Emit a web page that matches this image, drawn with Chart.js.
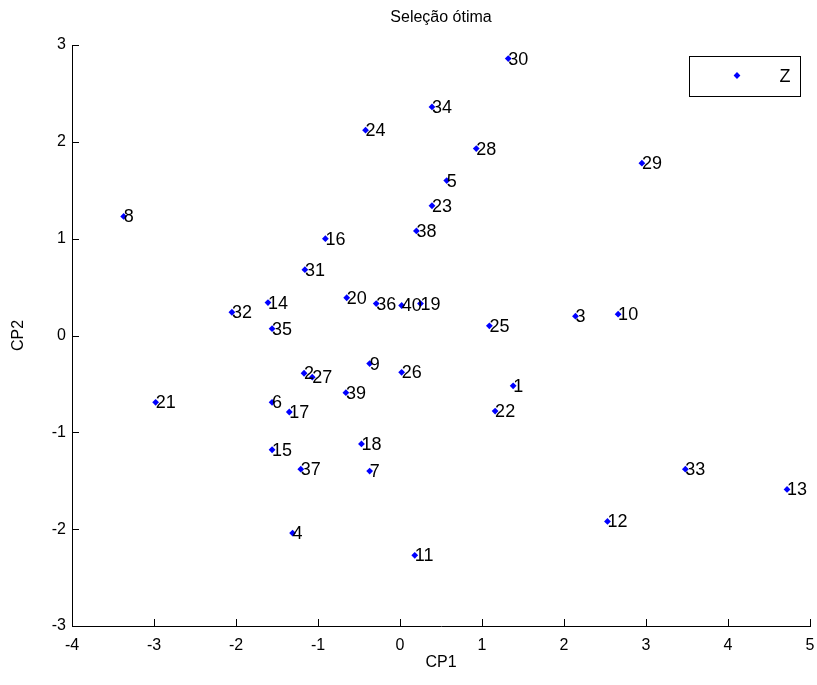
<!DOCTYPE html>
<html>
<head>
<meta charset="utf-8">
<script src="https://cdn.jsdelivr.net/npm/chart.js@4.4.1/dist/chart.umd.min.js"></script>
<style>
  html, body { margin: 0; padding: 0; background: #ffffff; }
  #wrap { width: 817px; height: 685px; }
</style>
</head>
<body>
<div id="wrap"><canvas id="c" width="817" height="685"></canvas></div>
<script>
// ---- data ----
const pointIds = [1,2,3,4,5,6,7,8,9,10,11,12,13,14,15,16,17,18,19,20,21,22,23,24,25,26,27,28,29,30,31,32,33,34,35,36,37,38,39,40];
const cp1Values = [1.38,-1.17,2.14,-1.31,0.57,-1.56,-0.37,-3.37,-0.37,2.66,0.18,2.53,4.72,-1.61,-1.56,-0.91,-1.35,-0.47,0.25,-0.65,-2.98,1.16,0.39,-0.42,1.09,0.02,-1.07,0.93,2.95,1.32,-1.16,-2.05,3.48,0.39,-1.56,-0.29,-1.21,0.20,-0.66,0.02];
const cp2Values = [-0.52,-0.39,0.20,-2.04,1.60,-0.69,-1.40,1.23,-0.29,0.22,-2.27,-1.92,-1.59,0.34,-1.18,1.00,-0.79,-1.12,0.33,0.39,-0.69,-0.78,1.34,2.12,0.10,-0.38,-0.43,1.93,1.78,2.86,0.68,0.24,-1.38,2.36,0.07,0.33,-1.38,1.08,-0.59,0.31];
const xTickValues = [-4,-3,-2,-1,0,1,2,3,4,5];
const yTickValues = [-3,-2,-1,0,1,2,3];
const chartTitle = 'Seleção ótima';
const xTitle = 'CP1';
const yTitle = 'CP2';
const seriesName = 'Z';

const FONT = 'Arial, "Liberation Sans", sans-serif';
const TXT = '#000000';

const points = pointIds.map((id, i) => ({ x: cp1Values[i], y: cp2Values[i], id: id }));

const decorPlugin = {
  id: 'decor',
  afterDraw(chart) {
    const ctx = chart.ctx;
    const ca = chart.chartArea;
    const xs = chart.scales.x, ys = chart.scales.y;
    ctx.save();
    // inward ticks
    ctx.strokeStyle = '#000';
    ctx.lineWidth = 1;
    ctx.beginPath();
    xTickValues.forEach(v => {
      const px = Math.round(xs.getPixelForValue(v)) + 0.5;
      ctx.moveTo(px, ca.bottom); ctx.lineTo(px, ca.bottom - 7);
    });
    yTickValues.forEach(v => {
      const py = Math.round(ys.getPixelForValue(v)) + 0.5;
      ctx.moveTo(ca.left, py); ctx.lineTo(ca.left + 7, py);
    });
    ctx.stroke();

    // point labels
    ctx.fillStyle = TXT;
    ctx.font = '18px ' + FONT;
    ctx.textAlign = 'left';
    ctx.textBaseline = 'middle';
    const meta = chart.getDatasetMeta(0);
    meta.data.forEach((el, i) => {
      ctx.fillText(String(points[i].id), el.x + 0, el.y + 1);
    });

    // title
    const cx = (ca.left + ca.right) / 2;
    ctx.textAlign = 'center';
    ctx.font = '16px ' + FONT;
    ctx.fillText(chartTitle, cx, 18);
    // x title
    ctx.fillText(xTitle, cx, 663);
    // y title
    ctx.save();
    ctx.translate(19, (ca.top + ca.bottom) / 2);
    ctx.rotate(-Math.PI / 2);
    ctx.fillText(yTitle, 0, 0);
    ctx.restore();

    // legend
    const lx = 689.5, ly = 56.5, lw = 111, lh = 40;
    ctx.fillStyle = '#ffffff';
    ctx.fillRect(lx, ly, lw, lh);
    ctx.strokeStyle = '#000';
    ctx.lineWidth = 1;
    ctx.strokeRect(lx, ly, lw, lh);
    ctx.fillStyle = '#0000ff';
    ctx.beginPath();
    const mx = 737, my = 75.5, r = 3.4;
    ctx.moveTo(mx, my - r); ctx.lineTo(mx + r, my); ctx.lineTo(mx, my + r); ctx.lineTo(mx - r, my); ctx.closePath();
    ctx.fill();
    ctx.fillStyle = TXT;
    ctx.font = '18px ' + FONT;
    ctx.textAlign = 'center';
    ctx.fillText(seriesName, 785, 77);
    ctx.restore();
  }
};

new Chart(document.getElementById('c'), {
  type: 'scatter',
  data: {
    datasets: [{
      label: seriesName,
      data: points,
      pointStyle: 'rectRot',
      pointRadius: 3.4,
      pointHoverRadius: 3.4,
      backgroundColor: '#0000ff',
      borderColor: '#0000ff',
      borderWidth: 0
    }]
  },
  options: {
    responsive: false,
    animation: false,
    events: [],
    layout: { padding: { top: 45, right: 7, left: 0, bottom: 0 } },
    plugins: {
      legend: { display: false },
      title: { display: false },
      tooltip: { enabled: false }
    },
    scales: {
      x: {
        type: 'linear',
        min: -4, max: 5,
        afterBuildTicks(scale) { scale.ticks = xTickValues.map(v => ({ value: v })); },
        afterFit(scale) { scale.height = 59; scale.paddingLeft = 0; scale.paddingRight = 0; },
        grid: { display: true, drawOnChartArea: false, drawTicks: false },
        border: { display: true, color: '#000', width: 1 },
        ticks: { color: TXT, font: { size: 16, family: FONT }, padding: 10, maxRotation: 0, autoSkip: false }
      },
      y: {
        type: 'linear',
        min: -3, max: 3,
        afterBuildTicks(scale) { scale.ticks = yTickValues.map(v => ({ value: v })); },
        afterFit(scale) { scale.width = 72; scale.paddingTop = 0; scale.paddingBottom = 0; },
        grid: { display: true, drawOnChartArea: false, drawTicks: false },
        border: { display: true, color: '#000', width: 1 },
        ticks: { color: TXT, font: { size: 16, family: FONT }, padding: 6, autoSkip: false }
      }
    }
  },
  plugins: [decorPlugin]
});
</script>
</body>
</html>
